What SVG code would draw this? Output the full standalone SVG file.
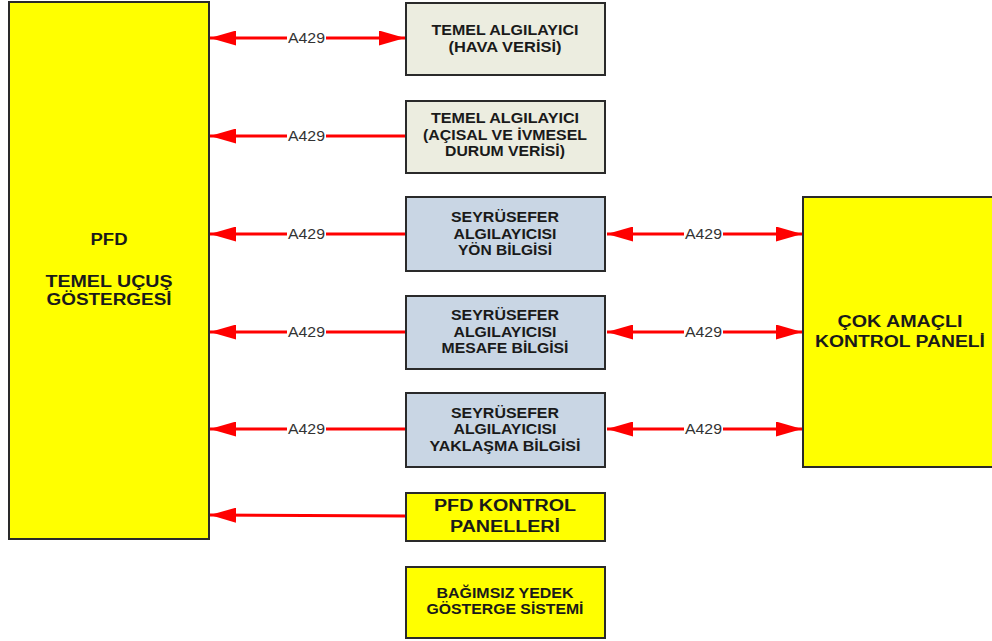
<svg xmlns="http://www.w3.org/2000/svg" width="992" height="641" viewBox="0 0 992 641">
<defs>
<marker id="ah" viewBox="0 0 26 15" refX="26" refY="7.5" markerWidth="26" markerHeight="15" markerUnits="userSpaceOnUse" orient="auto-start-reverse"><path d="M0,0 L26,7.5 L0,15 Z" fill="#ff0000"/></marker>
<style>
.box{stroke:#2a2a2a;stroke-width:2}
.y{fill:#ffff00}
.g{fill:#ecede0}
.b{fill:#c9d6e4}
.t{font-family:"Liberation Sans",Arial,sans-serif;font-weight:bold;fill:#1a1a1a;text-anchor:middle;font-size:15px}
.big{font-size:16px}
.c{stroke:#ff0000;stroke-width:3;fill:none}
.lbl{font-family:"Liberation Sans",Arial,sans-serif;font-size:14px;fill:#333;text-anchor:middle}
.bg{fill:#fff}
</style>
</defs>
<rect width="992" height="641" fill="#fff"/>
<g id="connectors">
<line class="c" x1="210" y1="38" x2="405" y2="38" marker-start="url(#ah)" marker-end="url(#ah)"/>
<line class="c" x1="406" y1="136" x2="210" y2="136" marker-end="url(#ah)"/>
<line class="c" x1="406" y1="234" x2="210" y2="234" marker-end="url(#ah)"/>
<line class="c" x1="406" y1="332" x2="210" y2="332" marker-end="url(#ah)"/>
<line class="c" x1="406" y1="429" x2="210" y2="429" marker-end="url(#ah)"/>
<line class="c" x1="406" y1="516" x2="210" y2="515" marker-end="url(#ah)"/>
<line class="c" x1="607" y1="234" x2="802" y2="234" marker-start="url(#ah)" marker-end="url(#ah)"/>
<line class="c" x1="607" y1="332" x2="802" y2="332" marker-start="url(#ah)" marker-end="url(#ah)"/>
<line class="c" x1="607" y1="429" x2="802" y2="429" marker-start="url(#ah)" marker-end="url(#ah)"/>
<g>
<rect class="bg" x="287" y="33" width="39" height="10"/><text class="lbl" x="306.5" y="43" textLength="37" lengthAdjust="spacingAndGlyphs">A429</text>
<rect class="bg" x="287" y="131" width="39" height="10"/><text class="lbl" x="306.5" y="141" textLength="37" lengthAdjust="spacingAndGlyphs">A429</text>
<rect class="bg" x="287" y="229" width="39" height="10"/><text class="lbl" x="306.5" y="239" textLength="37" lengthAdjust="spacingAndGlyphs">A429</text>
<rect class="bg" x="287" y="327" width="39" height="10"/><text class="lbl" x="306.5" y="337" textLength="37" lengthAdjust="spacingAndGlyphs">A429</text>
<rect class="bg" x="287" y="424" width="39" height="10"/><text class="lbl" x="306.5" y="434" textLength="37" lengthAdjust="spacingAndGlyphs">A429</text>
<rect class="bg" x="684" y="229" width="39" height="10"/><text class="lbl" x="703.5" y="239" textLength="37" lengthAdjust="spacingAndGlyphs">A429</text>
<rect class="bg" x="684" y="327" width="39" height="10"/><text class="lbl" x="703.5" y="337" textLength="37" lengthAdjust="spacingAndGlyphs">A429</text>
<rect class="bg" x="684" y="424" width="39" height="10"/><text class="lbl" x="703.5" y="434" textLength="37" lengthAdjust="spacingAndGlyphs">A429</text>
</g>
</g>
<g id="pfd">
<rect class="box y" x="9" y="2" width="200" height="537"/>
<text class="t big" x="109" y="245" textLength="37" lengthAdjust="spacingAndGlyphs">PFD</text>
<text class="t big" x="109" y="287" textLength="127" lengthAdjust="spacingAndGlyphs">TEMEL UÇUŞ</text>
<text class="t big" x="109" y="305" textLength="125" lengthAdjust="spacingAndGlyphs">GÖSTERGESİ</text>
</g>
<g id="hava">
<rect class="box g" x="406" y="3" width="199" height="72"/>
<text class="t" x="505" y="35" textLength="147" lengthAdjust="spacingAndGlyphs">TEMEL ALGILAYICI</text>
<text class="t" x="505" y="52" textLength="113" lengthAdjust="spacingAndGlyphs">(HAVA VERİSİ)</text>
</g>
<g id="acisal">
<rect class="box g" x="406" y="101" width="199" height="72"/>
<text class="t" x="505" y="123" textLength="148" lengthAdjust="spacingAndGlyphs">TEMEL ALGILAYICI</text>
<text class="t" x="505" y="139.5" textLength="164" lengthAdjust="spacingAndGlyphs">(AÇISAL VE İVMESEL</text>
<text class="t" x="505" y="156" textLength="120" lengthAdjust="spacingAndGlyphs">DURUM VERİSİ)</text>
</g>
<g id="yon">
<rect class="box b" x="406" y="197" width="199" height="74"/>
<text class="t" x="505" y="222" textLength="108" lengthAdjust="spacingAndGlyphs">SEYRÜSEFER</text>
<text class="t" x="505" y="238.5" textLength="103" lengthAdjust="spacingAndGlyphs">ALGILAYICISI</text>
<text class="t" x="505" y="255" textLength="94" lengthAdjust="spacingAndGlyphs">YÖN BİLGİSİ</text>
</g>
<g id="mesafe">
<rect class="box b" x="406" y="296" width="199" height="73"/>
<text class="t" x="505" y="320" textLength="108" lengthAdjust="spacingAndGlyphs">SEYRÜSEFER</text>
<text class="t" x="505" y="336.5" textLength="103" lengthAdjust="spacingAndGlyphs">ALGILAYICISI</text>
<text class="t" x="505" y="353" textLength="127" lengthAdjust="spacingAndGlyphs">MESAFE BİLGİSİ</text>
</g>
<g id="yaklasma">
<rect class="box b" x="406" y="393" width="199" height="74"/>
<text class="t" x="505" y="417.5" textLength="108" lengthAdjust="spacingAndGlyphs">SEYRÜSEFER</text>
<text class="t" x="505" y="434" textLength="103" lengthAdjust="spacingAndGlyphs">ALGILAYICISI</text>
<text class="t" x="505" y="450.5" textLength="151" lengthAdjust="spacingAndGlyphs">YAKLAŞMA BİLGİSİ</text>
</g>
<g id="pfdkontrol">
<rect class="box y" x="406" y="493" width="199" height="48"/>
<text class="t big" x="505" y="511" textLength="142" lengthAdjust="spacingAndGlyphs">PFD KONTROL</text>
<text class="t big" x="505" y="532" textLength="110" lengthAdjust="spacingAndGlyphs">PANELLERİ</text>
</g>
<g id="yedek">
<rect class="box y" x="406" y="567" width="199" height="71"/>
<text class="t" x="505" y="598" textLength="137" lengthAdjust="spacingAndGlyphs">BAĞIMSIZ YEDEK</text>
<text class="t" x="505" y="614" textLength="157" lengthAdjust="spacingAndGlyphs">GÖSTERGE SİSTEMİ</text>
</g>
<g id="cok">
<rect class="box y" x="803" y="197" width="196" height="270"/>
<text class="t big" x="900" y="327" textLength="125" lengthAdjust="spacingAndGlyphs">ÇOK AMAÇLI</text>
<text class="t big" x="900" y="347" textLength="170" lengthAdjust="spacingAndGlyphs">KONTROL PANELİ</text>
</g>
</svg>
